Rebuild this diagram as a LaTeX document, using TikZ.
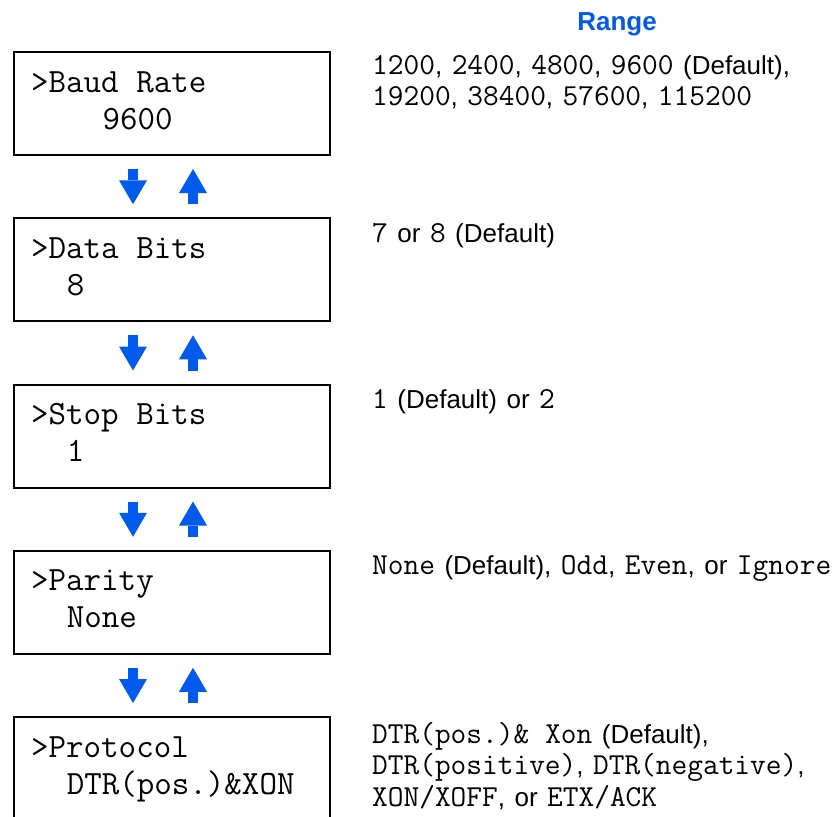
\documentclass[tikz,border=0pt]{standalone}
\usepackage{fontspec}
\setmainfont{Liberation Sans}
\usetikzlibrary{arrows.meta}
\definecolor{bleu}{RGB}{0,90,235}
\newcommand{\valeur}[1]{{\fontsize{30.5}{32}\ttfamily#1}}
\newcommand{\espacement}{\spaceskip=9.5pt plus 0pt minus 0pt\relax}

\begin{document}
\begin{tikzpicture}[x=1pt,y=-1pt]
	% Styles (MODIFIABLES)
	\tikzstyle{ecran}=[draw,line width=2pt,minimum width=316pt,minimum height=103pt,inner sep=0pt,anchor=north west]
	\tikzstyle{afficheur}=[anchor=base west,inner sep=0pt,font=\fontsize{34}{37}\ttfamily]
	\tikzstyle{plage}=[anchor=base west,inner sep=0pt,font=\fontsize{26}{32}\selectfont,execute at begin node=\espacement]
	\tikzstyle{titre}=[anchor=base,inner sep=0pt,text=bleu,font=\fontsize{26}{30}\selectfont\bfseries]
	\tikzstyle{fleche}=[draw=bleu,line width=10pt,-{Triangle[width=28pt,length=24pt,line width=0pt]},shorten <=13pt,shorten >=13pt]
	% Dimensions (MODIFIABLES)
	\def\DistanceInterEcrans{166.25}
	\def\HautEcran{51}
	\def\GaucheEcran{13}
	\def\GaucheTexte{31}
	\def\Car{17.85}
	\def\GauchePlage{372}
	\def\Interligne{31.5}
	% Niveaux calcules (NON MODIFIABLES)
	\def\NiveauA{\HautEcran+(0)*\DistanceInterEcrans}
	\def\NiveauB{\HautEcran+(1)*\DistanceInterEcrans}
	\def\NiveauC{\HautEcran+(2)*\DistanceInterEcrans}
	\def\NiveauD{\HautEcran+(3)*\DistanceInterEcrans}
	\def\NiveauE{\HautEcran+(4)*\DistanceInterEcrans}
	\useasboundingbox (0,0) rectangle (839,817);
	% Ecrans
	\node[ecran] (Baud) at ({\GaucheEcran},{\NiveauA}) {};
	\node[ecran] (Data) at ({\GaucheEcran},{\NiveauB}) {};
	\node[ecran] (Stop) at ({\GaucheEcran},{\NiveauC}) {};
	\node[ecran] (Parite) at ({\GaucheEcran},{\NiveauD}) {};
	\node[ecran] (Proto) at ({\GaucheEcran},{\NiveauE}) {};
	% Textes des ecrans
	\node[afficheur] (BaudA) at ({\GaucheTexte},{\NiveauA+41}) {>Baud Rate};
	\node[afficheur] (BaudB) at ({\GaucheTexte+4*\Car},{\NiveauA+78}) {9600};
	\node[afficheur] (DataA) at ({\GaucheTexte},{\NiveauB+41}) {>Data Bits};
	\node[afficheur] (DataB) at ({\GaucheTexte+2*\Car},{\NiveauB+78}) {8};
	\node[afficheur] (StopA) at ({\GaucheTexte},{\NiveauC+41}) {>Stop Bits};
	\node[afficheur] (StopB) at ({\GaucheTexte+2*\Car},{\NiveauC+78}) {1};
	\node[afficheur] (PariteA) at ({\GaucheTexte},{\NiveauD+41}) {>Parity};
	\node[afficheur] (PariteB) at ({\GaucheTexte+2*\Car},{\NiveauD+78}) {None};
	\node[afficheur] (ProtoA) at ({\GaucheTexte},{\NiveauE+41}) {>Protocol};
	\node[afficheur] (ProtoB) at ({\GaucheTexte+2*\Car},{\NiveauE+78}) {DTR(pos.)\&XON};
	% Plages
	\node[titre] (titre) at (617,30) {Range};
	\node[plage] (PlageA) at ({\GauchePlage},{\NiveauA+23}) {\valeur{1200}, \valeur{2400}, \valeur{4800}, \valeur{9600} (Default),};
	\node[plage] (PlageAb) at ({\GauchePlage},{\NiveauA+23+\Interligne}) {\valeur{19200}, \valeur{38400}, \valeur{57600}, \valeur{115200}};
	\node[plage] (PlageB) at ({\GauchePlage},{\NiveauB+25}) {\valeur{7} or \valeur{8} (Default)};
	\node[plage] (PlageC) at ({\GauchePlage},{\NiveauC+25}) {\valeur{1} (Default) or \valeur{2}};
	\node[plage] (PlageD) at ({\GauchePlage},{\NiveauD+25}) {\valeur{None} (Default), \valeur{Odd}, \valeur{Even}, or \valeur{Ignore}};
	\node[plage] (PlageE) at ({\GauchePlage},{\NiveauE+27}) {\valeur{DTR(pos.)\&\hspace{0.525em}Xon} (Default),};
	\node[plage] (PlageEb) at ({\GauchePlage},{\NiveauE+27+\Interligne}) {\valeur{DTR(positive)}, \valeur{DTR(negative)},};
	\node[plage] (PlageEc) at ({\GauchePlage},{\NiveauE+27+2*\Interligne}) {\valeur{XON/XOFF}, or \valeur{ETX/ACK}};
	% Fleches
	\coordinate (descente) at (133,0);
	\coordinate (montee) at (193,0);
	\draw[fleche] (Baud.south -| descente) -- (Data.north -| descente);
	\draw[fleche] (Data.north -| montee) -- (Baud.south -| montee);
	\draw[fleche] (Data.south -| descente) -- (Stop.north -| descente);
	\draw[fleche] (Stop.north -| montee) -- (Data.south -| montee);
	\draw[fleche] (Stop.south -| descente) -- (Parite.north -| descente);
	\draw[fleche] (Parite.north -| montee) -- (Stop.south -| montee);
	\draw[fleche] (Parite.south -| descente) -- (Proto.north -| descente);
	\draw[fleche] (Proto.north -| montee) -- (Parite.south -| montee);
\end{tikzpicture}
\end{document}
